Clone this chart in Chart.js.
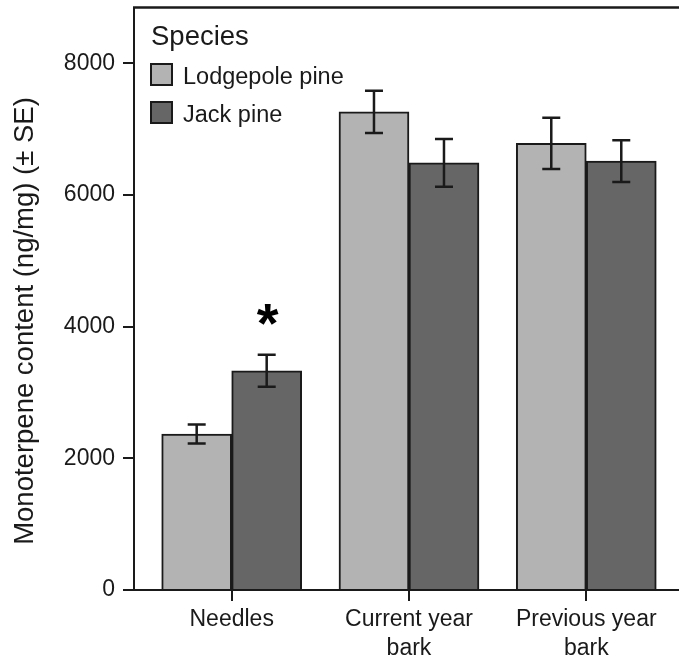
<!DOCTYPE html>
<html>
<head>
<meta charset="utf-8">
<script src="https://cdn.jsdelivr.net/npm/chart.js@4.4.1/dist/chart.umd.min.js"></script>
<style>
  html, body { margin: 0; padding: 0; background: #fff; }
  #wrap { width: 679px; height: 666px; position: relative; }
</style>
</head>
<body>
<div id="wrap"><canvas id="chart"></canvas></div>
<script>
// tissue types on the x axis
const categories = [['Needles'], ['Current year', 'bark'], ['Previous year', 'bark']];
const speciesNames = ['Lodgepole pine', 'Jack pine'];

// mean monoterpene content (ng/mg) and SE
const lodgepoleMeans = [2370, 7265, 6786];
const lodgepoleSE = [145, 322, 390];
const jackMeans = [3330, 6490, 6515];
const jackSE = [243, 362, 318];

const yTicks = [0, 2000, 4000, 6000, 8000];
const yTitle = 'Monoterpene content (ng/mg) (\u00B1 SE)';
const legendTitle = 'Species';
const signifMarks = [{ dataset: 1, index: 0, text: '*' }];

const FONT = '"Liberation Sans", Arial, Helvetica, sans-serif';
const INK = '#1a1a1a';
const colors = ['#b3b3b3', '#666666'];

function toPoints(values) {
    return values.map((v, i) => ({ x: i, y: v }));
}

// error bars, significance star, top frame line, legend and y title
const extrasPlugin = {
    id: 'extras',
    afterDatasetsDraw(chart) {
        const ctx = chart.ctx;
        const yScale = chart.scales.y;
        const seSets = [lodgepoleSE, jackSE];
        const meanSets = [lodgepoleMeans, jackMeans];
        ctx.save();
        ctx.strokeStyle = INK;
        ctx.lineWidth = 2.5;
        chart.data.datasets.forEach((ds, d) => {
            const meta = chart.getDatasetMeta(d);
            meta.data.forEach((bar, i) => {
                const m = meanSets[d][i], se = seSets[d][i];
                const yTop = yScale.getPixelForValue(m + se);
                const yBot = yScale.getPixelForValue(m - se);
                const x = bar.x, cap = 9;
                ctx.beginPath();
                ctx.moveTo(x, yTop); ctx.lineTo(x, yBot);
                ctx.moveTo(x - cap, yTop); ctx.lineTo(x + cap, yTop);
                ctx.moveTo(x - cap, yBot); ctx.lineTo(x + cap, yBot);
                ctx.stroke();
            });
        });

        // significance asterisk above the error bar
        ctx.fillStyle = '#000';
        ctx.font = 'bold 56px ' + FONT;
        ctx.textAlign = 'center';
        ctx.textBaseline = 'alphabetic';
        signifMarks.forEach(s => {
            const bar = chart.getDatasetMeta(s.dataset).data[s.index];
            const m = meanSets[s.dataset][s.index] + seSets[s.dataset][s.index];
            const cy = yScale.getPixelForValue(m) - 40;
            const tm = ctx.measureText(s.text);
            const off = (tm.actualBoundingBoxAscent - tm.actualBoundingBoxDescent) / 2;
            ctx.fillText(s.text, bar.x + 1, cy + off);
        });
        ctx.restore();
    },
    afterDraw(chart) {
        const ctx = chart.ctx;
        const area = chart.chartArea;
        ctx.save();
        // top frame line
        ctx.strokeStyle = INK;
        ctx.lineWidth = 2.5;
        ctx.beginPath();
        ctx.moveTo(area.left - 1, area.top);
        ctx.lineTo(chart.width, area.top);
        ctx.stroke();

        // legend
        ctx.fillStyle = INK;
        ctx.textAlign = 'left';
        ctx.textBaseline = 'alphabetic';
        ctx.font = '27.5px ' + FONT;
        ctx.fillText(legendTitle, area.left + 17, 45);
        ctx.font = '23.5px ' + FONT;
        speciesNames.forEach((name, i) => {
            const by = 64 + i * 38;
            ctx.fillStyle = colors[i];
            ctx.fillRect(area.left + 17, by, 21, 21);
            ctx.strokeStyle = INK;
            ctx.lineWidth = 2;
            ctx.strokeRect(area.left + 17, by, 21, 21);
            ctx.fillStyle = INK;
            ctx.fillText(name, area.left + 49, by + 20);
        });

        // y axis title, centred like the reference
        ctx.translate(25, 321);
        ctx.rotate(-Math.PI / 2);
        ctx.textAlign = 'center';
        ctx.textBaseline = 'middle';
        ctx.font = '27.5px ' + FONT;
        ctx.fillText(yTitle, 0, 0);
        ctx.restore();
    }
};

new Chart(document.getElementById('chart'), {
    type: 'bar',
    data: {
        datasets: [
            {
                label: speciesNames[0],
                data: toPoints(lodgepoleMeans),
                backgroundColor: colors[0],
                borderColor: INK,
                borderWidth: 2,
                barThickness: 70
            },
            {
                label: speciesNames[1],
                data: toPoints(jackMeans),
                backgroundColor: colors[1],
                borderColor: INK,
                borderWidth: 2,
                barThickness: 70
            }
        ]
    },
    options: {
        responsive: true,
        maintainAspectRatio: false,
        animation: false,
        layout: { padding: { top: 7.5, left: 0, right: 0, bottom: 0 } },
        plugins: {
            legend: { display: false },
            tooltip: { enabled: false }
        },
        scales: {
            x: {
                type: 'linear',
                min: -0.551,
                max: 2.523,
                offset: false,
                afterBuildTicks: (scale) => {
                    scale.ticks = categories.map((_, i) => ({ value: i }));
                },
                afterFit: (scale) => {
                    scale.height = 76;
                    scale.paddingLeft = 0;
                    scale.paddingRight = 0;
                },
                grid: {
                    offset: false,
                    drawOnChartArea: false,
                    drawTicks: true,
                    tickLength: 11,
                    color: INK,
                    lineWidth: 2
                },
                border: { display: true, color: INK, width: 2 },
                ticks: {
                    autoSkip: false,
                    maxRotation: 0,
                    padding: 5,
                    color: INK,
                    font: { family: FONT, size: 23, lineHeight: 1.23 },
                    callback: (v) => categories[v]
                }
            },
            y: {
                min: 0,
                max: 8850,
                afterBuildTicks: (scale) => {
                    scale.ticks = yTicks.map(v => ({ value: v }));
                },
                afterFit: (scale) => {
                    scale.width = 134;
                    scale.paddingTop = 0;
                    scale.paddingBottom = 0;
                },
                grid: {
                    drawOnChartArea: false,
                    drawTicks: true,
                    tickLength: 11,
                    color: INK,
                    lineWidth: 2
                },
                border: { display: true, color: INK, width: 2 },
                ticks: {
                    padding: 8,
                    color: INK,
                    font: { family: FONT, size: 23 },
                    callback: (v) => String(v)
                }
            }
        }
    },
    plugins: [extrasPlugin]
});
</script>
</body>
</html>
